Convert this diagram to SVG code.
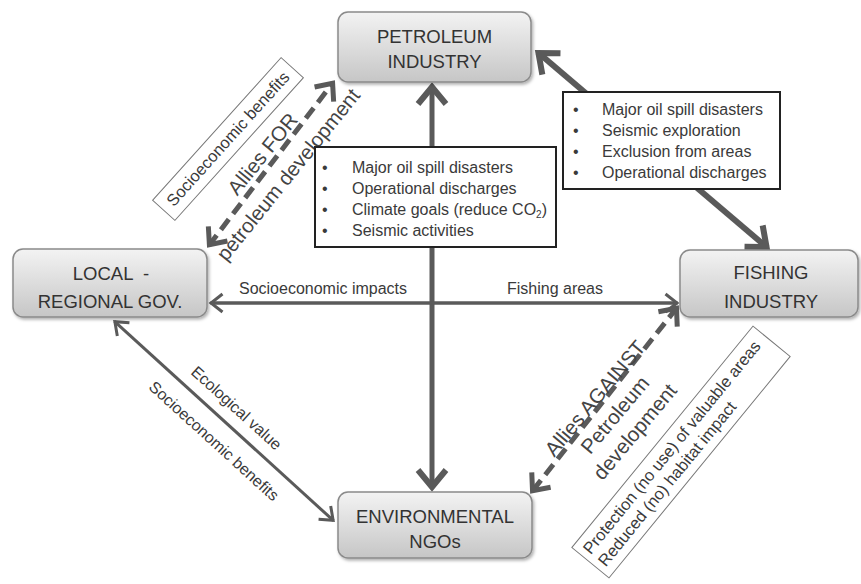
<svg xmlns="http://www.w3.org/2000/svg" width="861" height="584" viewBox="0 0 861 584">
<style>
text{font-family:"Liberation Sans",Arial,sans-serif;fill:#3a3a3a}
.node rect{stroke:#8a8a8a;stroke-width:1.5;fill:url(#g)}
.nt{font-size:18.5px;text-anchor:middle;fill:#333}
.bx{fill:#fff;stroke:#222;stroke-width:2}
.bt{font-size:16px}
.lb{font-size:16px;text-anchor:middle}
.al{font-size:20.5px;text-anchor:middle;fill:#444}
.c{fill:none;stroke:#5a5a5a}
.tb{fill:#fff;stroke:#777;stroke-width:1}
</style>
<defs>
<linearGradient id="g" x1="0" y1="0" x2="0" y2="1">
<stop offset="0" stop-color="#f3f3f3"/>
<stop offset="1" stop-color="#c6c6c6"/>
</linearGradient>
<filter id="sh" x="-10%" y="-10%" width="125%" height="135%">
<feDropShadow dx="1.5" dy="2" stdDeviation="1.5" flood-color="#000" flood-opacity="0.3"/>
</filter>
<marker id="ab" markerUnits="userSpaceOnUse" viewBox="-30 -20 40 40" markerWidth="40" markerHeight="40" refX="0" refY="0" orient="auto-start-reverse">
<path d="M-18,-14 L-1,0 L-18,14" fill="none" stroke="#5a5a5a" stroke-width="6"/>
</marker>
<marker id="am" markerUnits="userSpaceOnUse" viewBox="-30 -20 40 40" markerWidth="40" markerHeight="40" refX="0" refY="0" orient="auto-start-reverse">
<path d="M-15,-12 L-1,0 L-15,12" fill="none" stroke="#5a5a5a" stroke-width="5"/>
</marker>
<marker id="as" markerUnits="userSpaceOnUse" viewBox="-30 -20 40 40" markerWidth="40" markerHeight="40" refX="0" refY="0" orient="auto-start-reverse">
<path d="M-12,-9 L-0.5,0 L-12,9" fill="none" stroke="#5a5a5a" stroke-width="3"/>
</marker>
</defs>
<rect width="861" height="584" fill="#fff"/>
<g id="connectors">
<line class="c" x1="432" y1="86" x2="432" y2="488" stroke-width="5" marker-start="url(#ab)" marker-end="url(#ab)"/>
<line class="c" x1="537.7" y1="52.3" x2="767.3" y2="247.7" stroke-width="6" marker-start="url(#ab)" marker-end="url(#ab)"/>
<line class="c" x1="210.5" y1="303" x2="677.5" y2="303" stroke-width="3.5" marker-start="url(#as)" marker-end="url(#as)"/>
<line class="c" x1="114.5" y1="321.3" x2="333.5" y2="520.7" stroke-width="3" marker-start="url(#as)" marker-end="url(#as)"/>
<line class="c" x1="208.8" y1="245.6" x2="333.2" y2="82.4" stroke-width="5" stroke-dasharray="13 7" marker-start="url(#am)" marker-end="url(#am)"/>
<line class="c" x1="677.1" y1="307.4" x2="531.9" y2="491.6" stroke-width="5" stroke-dasharray="13 7" marker-start="url(#am)" marker-end="url(#am)"/>
<text class="lb" x="323" y="294">Socioeconomic impacts</text>
<text class="lb" x="555" y="294">Fishing areas</text>
<g transform="translate(236.5,408) rotate(42.3)"><text class="lb" x="0" y="5.5">Ecological value</text></g>
<g transform="translate(214,441) rotate(42.3)"><text class="lb" x="0" y="5.5">Socioeconomic benefits</text></g>
<g transform="translate(275,164) rotate(-51)">
<text class="al" x="0" y="-9">Allies FOR</text>
<text class="al" x="0" y="24">petroleum development</text>
</g>
<g transform="translate(615,415) rotate(-50)">
<text class="al" x="0" y="-19">Allies AGAINST</text>
<text class="al" x="0" y="7">Petroleum</text>
<text class="al" x="0" y="33">development</text>
</g>
</g>
<g id="box-socio-benefits" transform="translate(228,139) rotate(-48)">
<rect class="tb" x="-96" y="-15" width="192" height="30"/>
<text class="lb" x="0" y="5.5" style="font-size:16.5px">Socioeconomic benefits</text>
</g>
<g id="box-protection" transform="translate(681,452) rotate(-50.7)">
<rect class="tb" x="-143" y="-24" width="286" height="48"/>
<text x="-137" y="-4.5" style="font-size:16.5px">Protection (no use) of valuable areas</text>
<text x="-137" y="15" style="font-size:16.5px">Reduced (no) habitat impact</text>
</g>
<g id="box-central">
<rect class="bx" x="315" y="147" width="241" height="100"/>
<text class="bt" x="322" y="173">•</text><text class="bt" x="352" y="173">Major oil spill disasters</text>
<text class="bt" x="322" y="194">•</text><text class="bt" x="352" y="194">Operational discharges</text>
<text class="bt" x="322" y="215">•</text><text class="bt" x="352" y="215">Climate goals (reduce CO<tspan font-size="10px" dy="3">2</tspan><tspan dy="-3">)</tspan></text>
<text class="bt" x="322" y="236">•</text><text class="bt" x="352" y="236">Seismic activities</text>
</g>
<g id="box-right">
<rect class="bx" x="563" y="92" width="217" height="97"/>
<text class="bt" x="573" y="115">•</text><text class="bt" x="602" y="115">Major oil spill disasters</text>
<text class="bt" x="573" y="136">•</text><text class="bt" x="602" y="136">Seismic exploration</text>
<text class="bt" x="573" y="157">•</text><text class="bt" x="602" y="157">Exclusion from areas</text>
<text class="bt" x="573" y="178">•</text><text class="bt" x="602" y="178">Operational discharges</text>
</g>
<g id="node-petroleum" class="node">
<rect x="338" y="12" width="193" height="70" rx="10" filter="url(#sh)"/>
<text class="nt" x="434.5" y="43">PETROLEUM</text>
<text class="nt" x="434.5" y="68">INDUSTRY</text>
</g>
<g id="node-local" class="node">
<rect x="13" y="249" width="194" height="68" rx="10" filter="url(#sh)"/>
<text class="nt" x="111" y="280" xml:space="preserve">LOCAL  -</text>
<text class="nt" x="110" y="308">REGIONAL GOV.</text>
</g>
<g id="node-fishing" class="node">
<rect x="680" y="250" width="178" height="67" rx="10" filter="url(#sh)"/>
<text class="nt" x="771" y="279">FISHING</text>
<text class="nt" x="771" y="308">INDUSTRY</text>
</g>
<g id="node-env" class="node">
<rect x="338" y="492" width="194" height="66" rx="10" filter="url(#sh)"/>
<text class="nt" x="435" y="523">ENVIRONMENTAL</text>
<text class="nt" x="435" y="548">NGOs</text>
</g>
</svg>
